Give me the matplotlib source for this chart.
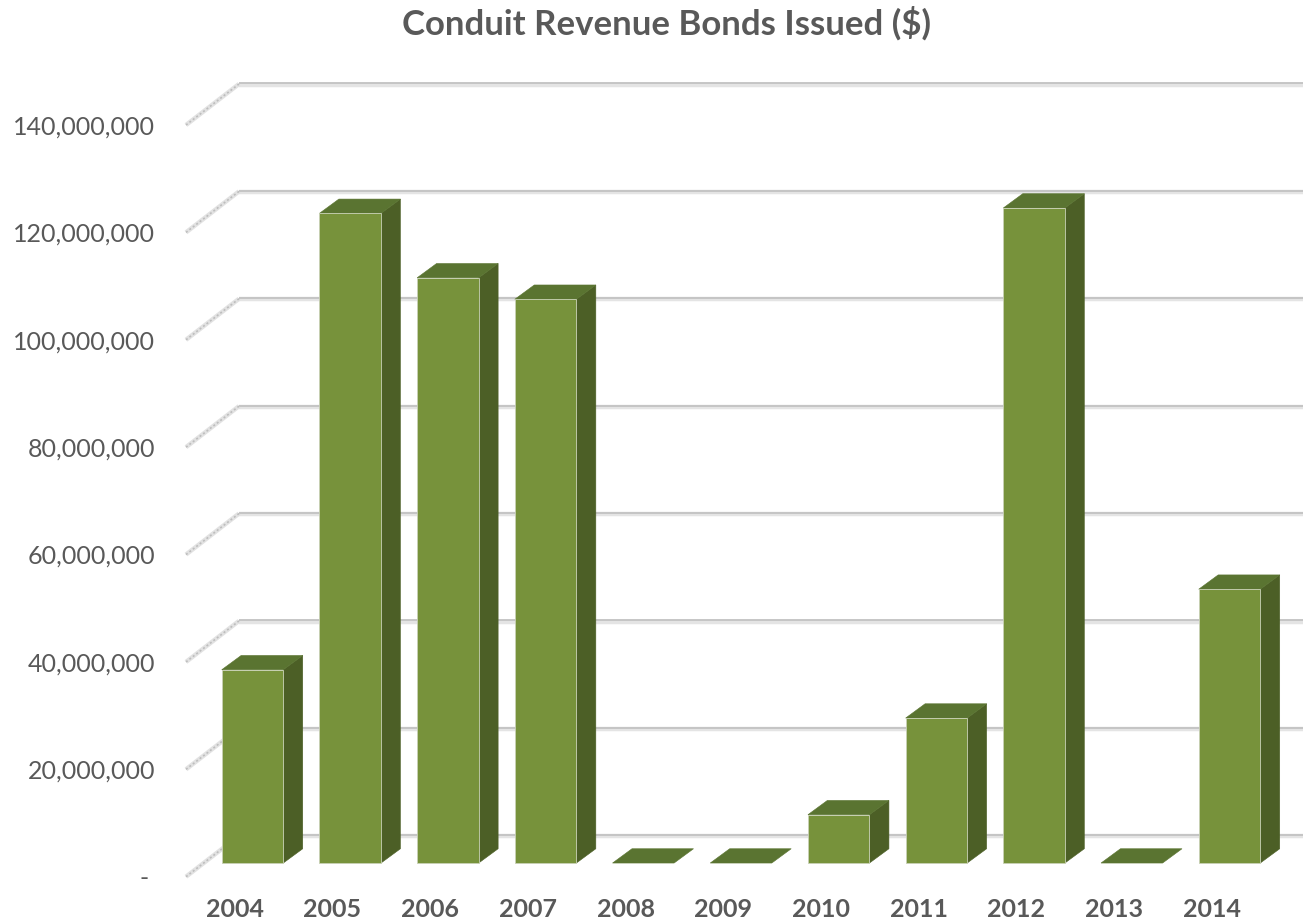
import matplotlib
matplotlib.use("Agg")
import matplotlib.pyplot as plt
from matplotlib.patches import Polygon
from matplotlib.ticker import FuncFormatter

# ---- data ----
years = ["2004", "2005", "2006", "2007", "2008", "2009",
         "2010", "2011", "2012", "2013", "2014"]
bonds_issued = [36_000_000, 121_000_000, 109_000_000, 105_000_000, 0, 0,
                9_000_000, 27_000_000, 122_000_000, 0, 51_000_000]
value_ticks = [0, 20_000_000, 40_000_000, 60_000_000, 80_000_000,
               100_000_000, 120_000_000, 140_000_000]
chart_title = "Conduit Revenue Bonds Issued ($)"

# ---- style ----
W, H, DPI = 1303, 922, 100
TEXT = "#595959"
FRONT = "#77923B"
TOP = "#5A7431"
SIDE = "#4C5F26"
FONT = "Lato"

fig = plt.figure(figsize=(W / DPI, H / DPI), dpi=DPI)
fig.patch.set_facecolor("white")

# front plane of the 3-D box, in pixels
left_px, right_px = 186.0, 1260.7
bottom_px, top_px = 922 - 876.7, 922 - 125.0
ax = fig.add_axes([left_px / W, bottom_px / H,
                   (right_px - left_px) / W, (top_px - bottom_px) / H])
n = len(years)
ax.set_xlim(-0.5, n - 0.5)
ax.set_ylim(0, value_ticks[-1])
for s in ax.spines.values():
    s.set_visible(False)

# oblique depth vector (front -> back wall) expressed in data units
depth_px = (53.0, 41.0)
x_per_px = n / (right_px - left_px)
y_per_px = value_ticks[-1] / (top_px - bottom_px)
DX, DY = depth_px[0] * x_per_px, depth_px[1] * y_per_px

# back wall gridlines and side wall gridlines
for v in value_ticks:
    xs = [-0.5 + DX, n - 0.5 + DX]
    ax.plot(xs, [v + DY - 0.6 * y_per_px] * 2, color="#E4E4E4", lw=3.2,
            solid_capstyle="butt", clip_on=False, zorder=1)
    ax.plot(xs, [v + DY + 0.6 * y_per_px] * 2, color="#C2C2C2", lw=1.3,
            solid_capstyle="butt", clip_on=False, zorder=1)
    ax.plot([-0.5, -0.5 + DX], [v, v + DY], color="#E2E2E2", lw=3.2,
            solid_capstyle="butt", clip_on=False, zorder=1)
    ax.plot([-0.5, -0.5 + DX], [v, v + DY], color="#BDBDBD", lw=1.2,
            ls=(0, (1.2, 1.4)), clip_on=False, zorder=1)

# 3-D columns: front, top and right-hand faces
bar_w = 0.63
f1, f2 = 1 / 3, 0.70
ddx, ddy = (f2 - f1) * DX, (f2 - f1) * DY * 0.95
for i, v in enumerate(bonds_issued):
    x0 = i - bar_w / 2 + f1 * DX
    x1 = i + bar_w / 2 + f1 * DX
    y0 = f1 * DY
    y1 = v + f1 * DY
    top = [(x0, y1), (x1, y1), (x1 + ddx, y1 + ddy), (x0 + ddx, y1 + ddy)]
    if v > 0:
        side = [(x1, y0), (x1 + ddx, y0 + ddy), (x1 + ddx, y1 + ddy), (x1, y1)]
        front = [(x0, y0), (x1, y0), (x1, y1), (x0, y1)]
        ax.add_patch(Polygon(side, closed=True, facecolor=SIDE,
                             edgecolor=SIDE, lw=0.4, clip_on=False, zorder=3))
        ax.add_patch(Polygon(top, closed=True, facecolor=TOP,
                             edgecolor=TOP, lw=0.4, clip_on=False, zorder=3))
        ax.add_patch(Polygon(front, closed=True, facecolor=FRONT,
                             edgecolor="#C9D1B6", lw=0.6, clip_on=False, zorder=4))
    else:
        ax.add_patch(Polygon(top, closed=True, facecolor=TOP,
                             edgecolor=TOP, lw=0.4, clip_on=False, zorder=3))

# axes labels
ax.set_yticks(value_ticks)
ax.yaxis.set_major_formatter(
    FuncFormatter(lambda v, p: "- " if v == 0 else f"{v:,.0f}"))
ax.set_xticks(range(n))
ax.set_xticklabels(years)
ax.tick_params(axis="y", length=0, pad=22, labelsize=18, labelcolor=TEXT)
ax.tick_params(axis="x", length=0, pad=15, labelsize=18, labelcolor=TEXT)
for lbl in ax.get_yticklabels():
    lbl.set_fontfamily(FONT)
for lbl in ax.get_xticklabels():
    lbl.set_fontfamily(FONT)
    lbl.set_fontweight("bold")
ax.grid(False)

fig.text(667 / W, 1 - 23 / H, chart_title, ha="center", va="center",
         fontsize=25, fontweight="bold", color=TEXT, family=FONT)

fig.savefig("out.png", dpi=DPI, facecolor="white")
